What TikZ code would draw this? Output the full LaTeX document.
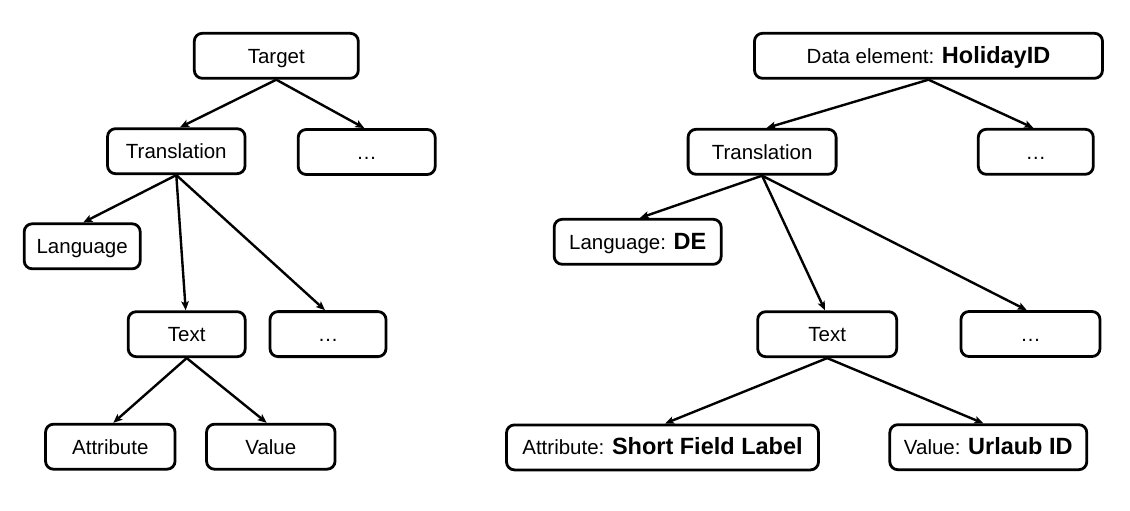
\documentclass[tikz,border=0pt]{standalone}
\usepackage{fontspec}
\setmainfont{Liberation Sans}
\usetikzlibrary{arrows.meta,calc}
\newcommand\hb[1]{{\fontsize{23.5}{26}\selectfont\bfseries #1}}
\begin{document}
\begin{tikzpicture}[x=1pt,y=-1pt,
  box/.style={draw, line width=2.8pt, rounded corners=8pt, minimum height=45pt,
    inner sep=0pt, text height=14.7pt, text depth=0pt,
    font=\fontsize{20.5}{24}\selectfont},
  conn/.style={line width=2.4pt, -{Stealth[length=9pt,width=7.5pt,inset=2pt]}}]
\useasboundingbox (0,0) rectangle (1130,511);
\fill[white] (0,0) rectangle (1130,511);

% left tree
\node[box, minimum width=164pt]   (tgt)    at (276.3,55.8)  {Target};
\node[box, minimum width=137.5pt] (transL) at (176.3,151.2) {Translation};
\node[box, minimum width=137pt]   (dotsLa) at (366.7,152)   {…};
\node[box, minimum width=116pt]   (langL)  at (82.2,246.3)  {Language};
\node[box, minimum width=117pt]   (textL)  at (186.7,334.2) {Text};
\node[box, minimum width=116pt]   (dotsLb) at (328,334.1)   {…};
\node[box, minimum width=129.5pt] (attrL)  at (110.3,446.7) {Attribute};
\node[box, minimum width=128.5pt] (valL)   at (270.8,446.7) {Value};

\draw[conn] (tgt.south)    -- ($(transL.north)+(3.7,0)$);
\draw[conn] (tgt.south)    -- ($(dotsLa.north)+(-2.4,0)$);
\draw[conn] (transL.south) -- ($(langL.north)+(1.1,0)$);
\draw[conn] (transL.south) -- ($(textL.north)+(-1,0)$);
\draw[conn] (transL.south) -- ($(dotsLb.north)+(-3,0)$);
\draw[conn] (textL.south)  -- ($(attrL.north)+(3,0)$);
\draw[conn] (textL.south)  -- ($(valL.north)+(-4.1,0)$);

% right tree
\node[box, minimum width=348pt] (data)   at (928.5,55.8)  {Data element: \hb{HolidayID}};
\node[box, minimum width=148pt] (transR) at (762.1,151.8) {Translation};
\node[box, minimum width=115pt] (dotsRa) at (1035.8,151.8) {…};
\node[box, minimum width=167pt] (langR)  at (637.7,241.8) {Language: \hb{DE}};
\node[box, minimum width=139pt] (textR)  at (827.2,334.2) {Text};
\node[box, minimum width=139pt] (dotsRb) at (1030.5,334)  {…};
\node[box, minimum width=312pt] (attrR)  at (662.5,447.4) {Attribute: \hb{Short Field Label}};
\node[box, minimum width=197pt] (valR)   at (988.3,447.2) {Value: \hb{Urlaub ID}};

\draw[conn] (data.south)   -- ($(transR.north)+(4.6,0)$);
\draw[conn] (data.south)   -- ($(dotsRa.north)+(-2.5,0)$);
\draw[conn] (transR.south) -- ($(langR.north)+(2.3,0)$);
\draw[conn] (transR.south) -- ($(textR.north)+(-2.2,0)$);
\draw[conn] (transR.south) -- ($(dotsRb.north)+(-3.8,0)$);
\draw[conn] (textR.south)  -- ($(attrR.north)+(2.5,0)$);
\draw[conn] (textR.south)  -- ($(valR.north)+(-5,0)$);
\end{tikzpicture}
\end{document}
